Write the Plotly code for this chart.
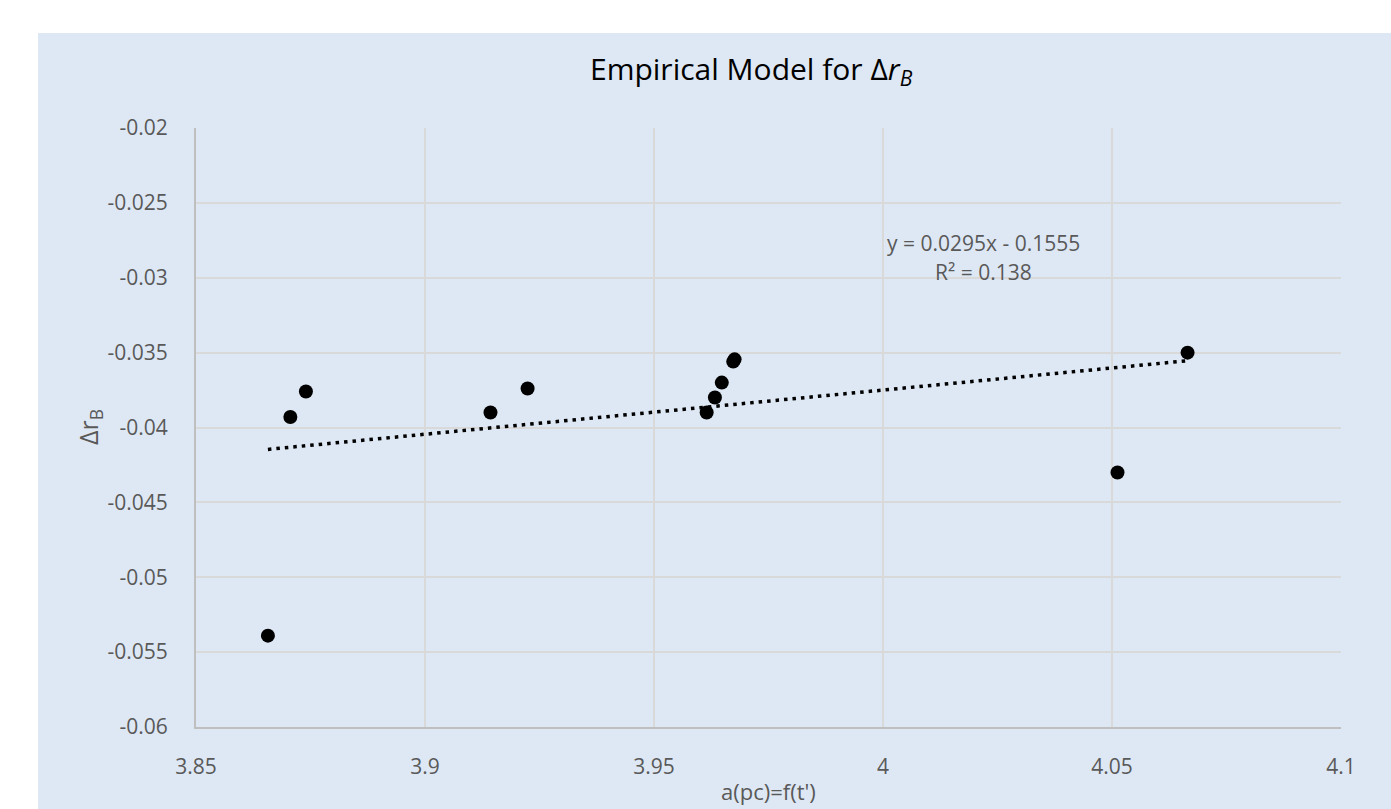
import plotly.graph_objects as go

# ---- data ----
x_vals = [3.8657, 3.8706, 3.8740, 3.9143, 3.9224, 3.9615, 3.9633, 3.9648, 3.9673, 3.9676, 4.0665, 4.0512]
y_vals = [-0.0539, -0.0393, -0.0376, -0.0390, -0.0374, -0.0390, -0.0380, -0.0370, -0.0356, -0.03545, -0.0350, -0.0430]
trend_slope = 0.0295
trend_intercept = -0.1555
x_tickvals = [3.85, 3.9, 3.95, 4.0, 4.05, 4.1]
x_ticktext = ["3.85", "3.9", "3.95", "4", "4.05", "4.1"]
y_tickvals = [-0.02, -0.025, -0.03, -0.035, -0.04, -0.045, -0.05, -0.055, -0.06]
y_ticktext = ["-0.02", "-0.025", "-0.03", "-0.035", "-0.04", "-0.045", "-0.05", "-0.055", "-0.06"]

BG = "#dee8f4"
FONT = "Open Sans"
TXT = "#595959"

W, H = 1391, 809
L, R, T, B = 196, 50, 128, 82
pw, ph = W - L - R, H - T - B

def px(xp):
    return (xp - L) / pw

def py(yp):
    return (H - B - yp) / ph

x0, x1 = min(x_vals), max(x_vals)
trend_x = [x0, x1]
trend_y = [trend_slope * v + trend_intercept for v in trend_x]

fig = go.Figure()
fig.add_trace(go.Scatter(x=trend_x, y=trend_y, mode="lines",
                         line=dict(color="black", width=3.5, dash="3.5px,5px"),
                         hoverinfo="skip", showlegend=False))
fig.add_trace(go.Scatter(x=x_vals, y=y_vals, mode="markers",
                         marker=dict(color="black", size=14),
                         showlegend=False))

fig.update_layout(
    width=W, height=H,
    margin=dict(l=L, r=R, t=T, b=B),
    paper_bgcolor="white",
    plot_bgcolor="rgba(0,0,0,0)",
    font=dict(family=FONT, color=TXT, size=20),
    showlegend=False,
    shapes=[dict(type="rect", xref="paper", yref="paper",
                 x0=px(38), x1=px(1400), y0=py(815), y1=py(33),
                 fillcolor=BG, line=dict(width=0), layer="below")],
    annotations=[
        dict(text="Empirical Model for Δ<i>r</i><sub><i>B</i></sub>", x=px(751), y=py(70),
             xref="paper", yref="paper", showarrow=False, xanchor="center", yanchor="middle",
             font=dict(family=FONT, size=30, color="black")),
        dict(text="y = 0.0295x - 0.1555", x=px(983), y=py(243),
             xref="paper", yref="paper", showarrow=False, xanchor="center", yanchor="middle",
             font=dict(family=FONT, size=21, color=TXT)),
        dict(text="R² = 0.138", x=px(983), y=py(272),
             xref="paper", yref="paper", showarrow=False, xanchor="center", yanchor="middle",
             font=dict(family=FONT, size=21, color=TXT)),
        dict(text="a(pc)=f(t')", x=px(768), y=py(791),
             xref="paper", yref="paper", showarrow=False, xanchor="center", yanchor="middle",
             font=dict(family=FONT, size=22, color=TXT)),
        dict(text="Δr<sub>B</sub>", x=px(89), y=py(427), textangle=-90,
             xref="paper", yref="paper", showarrow=False, xanchor="center", yanchor="middle",
             font=dict(family=FONT, size=25, color=TXT)),
    ],
)

fig.update_xaxes(range=[3.85, 4.1], tickvals=x_tickvals, ticktext=x_ticktext,
                 showgrid=True, gridcolor="#d9d9d9", gridwidth=2,
                 showline=True, linecolor="#bfbfbf", linewidth=2,
                 zeroline=False, ticks="", ticklabelstandoff=20,
                 tickfont=dict(family=FONT, size=21, color=TXT))
fig.update_yaxes(range=[-0.06, -0.02], tickvals=y_tickvals, ticktext=y_ticktext,
                 showgrid=True, gridcolor="#d9d9d9", gridwidth=2,
                 showline=True, linecolor="#bfbfbf", linewidth=2,
                 zeroline=False, ticks="", ticklabelstandoff=22,
                 tickfont=dict(family=FONT, size=21, color=TXT))

fig.write_html("out.html")
